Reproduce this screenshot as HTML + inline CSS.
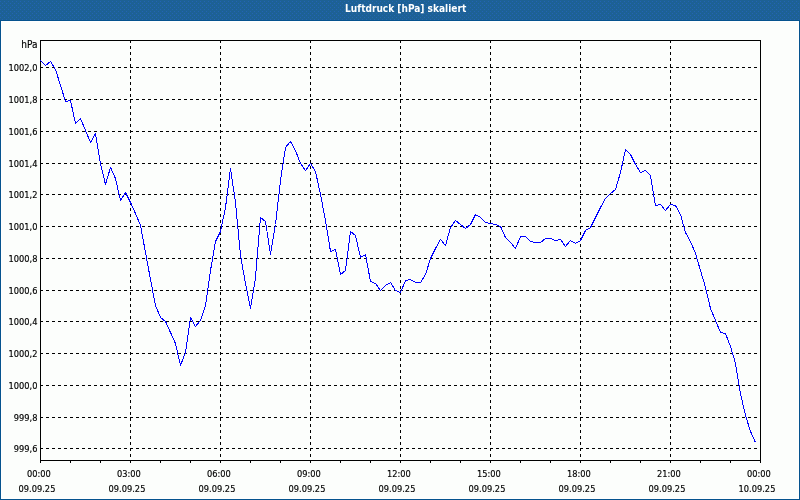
<!DOCTYPE html>
<html lang="de">
<head>
<meta charset="utf-8">
<title>Luftdruck [hPa] skaliert</title>
<style>
html,body{margin:0;padding:0;background:#fff;}
body{width:800px;height:500px;overflow:hidden;position:relative;font-family:"DejaVu Sans Condensed", "Liberation Sans", sans-serif;}
#win{position:absolute;left:0;top:0;width:800px;height:500px;background:#1e6297;}
#hdr{position:absolute;left:0;top:0;width:800px;height:20px;background:#1e6297;color:#fff;font-weight:bold;font-size:10.05px;line-height:20px;text-align:center;white-space:nowrap;}
#hdr svg{position:absolute;left:0;top:0;}
#hdr span{position:absolute;left:345px;top:4px;line-height:1;letter-spacing:0px;}
#frame{position:absolute;left:0;top:20px;width:798px;height:478px;border:1px solid #05538e;background:#fcfefc;box-shadow:inset 0 0 0 1px #fff;}
svg{position:absolute;left:0;top:0;}
svg text{font-family:"DejaVu Sans Condensed", "Liberation Sans", sans-serif;font-size:9.2px;fill:#000;stroke:#000;stroke-width:0.15px;}
</style>
</head>
<body>
<div id="win">
<div id="hdr"><svg width="800" height="20" viewBox="0 0 800 20" shape-rendering="crispEdges"><defs><pattern id="dith" width="4" height="4" patternUnits="userSpaceOnUse"><rect width="4" height="4" fill="#1d6195"/><rect x="0" y="1" width="1" height="1" fill="#2364b4"/><rect x="2" y="3" width="1" height="1" fill="#2364b4"/></pattern></defs><rect width="800" height="20" fill="url(#dith)"/></svg><span>Luftdruck [hPa] skaliert</span></div>
<div id="frame"></div>
<svg width="800" height="500" viewBox="0 0 800 500">

<g shape-rendering="crispEdges" stroke="#000" stroke-width="1" fill="none">
<line x1="40" y1="67.5" x2="761" y2="67.5" stroke-dasharray="3 3"/>
<line x1="40" y1="99.5" x2="761" y2="99.5" stroke-dasharray="3 3"/>
<line x1="40" y1="131.5" x2="761" y2="131.5" stroke-dasharray="3 3"/>
<line x1="40" y1="163.5" x2="761" y2="163.5" stroke-dasharray="3 3"/>
<line x1="40" y1="194.5" x2="761" y2="194.5" stroke-dasharray="3 3"/>
<line x1="40" y1="226.5" x2="761" y2="226.5" stroke-dasharray="3 3"/>
<line x1="40" y1="258.5" x2="761" y2="258.5" stroke-dasharray="3 3"/>
<line x1="40" y1="290.5" x2="761" y2="290.5" stroke-dasharray="3 3"/>
<line x1="40" y1="321.5" x2="761" y2="321.5" stroke-dasharray="3 3"/>
<line x1="40" y1="353.5" x2="761" y2="353.5" stroke-dasharray="3 3"/>
<line x1="40" y1="385.5" x2="761" y2="385.5" stroke-dasharray="3 3"/>
<line x1="40" y1="417.5" x2="761" y2="417.5" stroke-dasharray="3 3"/>
<line x1="40" y1="448.5" x2="761" y2="448.5" stroke-dasharray="3 3"/>
<line x1="130.5" y1="40" x2="130.5" y2="461" stroke-dasharray="3 3"/>
<line x1="220.5" y1="40" x2="220.5" y2="461" stroke-dasharray="3 3"/>
<line x1="310.5" y1="40" x2="310.5" y2="461" stroke-dasharray="3 3"/>
<line x1="400.5" y1="40" x2="400.5" y2="461" stroke-dasharray="3 3"/>
<line x1="490.5" y1="40" x2="490.5" y2="461" stroke-dasharray="3 3"/>
<line x1="580.5" y1="40" x2="580.5" y2="461" stroke-dasharray="3 3"/>
<line x1="670.5" y1="40" x2="670.5" y2="461" stroke-dasharray="3 3"/>
<rect x="40.5" y="40.5" width="720" height="420"/>
<line x1="40.5" y1="460" x2="40.5" y2="463"/>
<line x1="70.5" y1="460" x2="70.5" y2="463"/>
<line x1="100.5" y1="460" x2="100.5" y2="463"/>
<line x1="130.5" y1="460" x2="130.5" y2="463"/>
<line x1="160.5" y1="460" x2="160.5" y2="463"/>
<line x1="190.5" y1="460" x2="190.5" y2="463"/>
<line x1="220.5" y1="460" x2="220.5" y2="463"/>
<line x1="250.5" y1="460" x2="250.5" y2="463"/>
<line x1="280.5" y1="460" x2="280.5" y2="463"/>
<line x1="310.5" y1="460" x2="310.5" y2="463"/>
<line x1="340.5" y1="460" x2="340.5" y2="463"/>
<line x1="370.5" y1="460" x2="370.5" y2="463"/>
<line x1="400.5" y1="460" x2="400.5" y2="463"/>
<line x1="430.5" y1="460" x2="430.5" y2="463"/>
<line x1="460.5" y1="460" x2="460.5" y2="463"/>
<line x1="490.5" y1="460" x2="490.5" y2="463"/>
<line x1="520.5" y1="460" x2="520.5" y2="463"/>
<line x1="550.5" y1="460" x2="550.5" y2="463"/>
<line x1="580.5" y1="460" x2="580.5" y2="463"/>
<line x1="610.5" y1="460" x2="610.5" y2="463"/>
<line x1="640.5" y1="460" x2="640.5" y2="463"/>
<line x1="670.5" y1="460" x2="670.5" y2="463"/>
<line x1="700.5" y1="460" x2="700.5" y2="463"/>
<line x1="730.5" y1="460" x2="730.5" y2="463"/>
<line x1="760.5" y1="460" x2="760.5" y2="463"/>
</g>
<polyline shape-rendering="crispEdges" fill="none" stroke="#0000ff" stroke-width="1" stroke-linejoin="bevel" points="40.5,60.5 45.5,65.5 50.5,61.5 55.5,69.5 60.5,85.5 65.5,101.5 70.5,100.5 75.5,123.5 80.5,118.5 85.5,130.5 90.5,142.5 95.5,133.5 100.5,163.5 105.5,184.5 110.5,167.5 115.5,178.5 120.5,200.5 125.5,192.5 130.5,202.5 135.5,213.5 140.5,225.5 145.5,252.5 150.5,279.5 155.5,305.5 160.5,317.5 165.5,321.5 170.5,332.5 175.5,343.5 180.5,365.5 185.5,352.5 190.5,317.5 195.5,326.5 200.5,320.5 205.5,305.5 210.5,270.5 215.5,241.5 220.5,231.5 225.5,207.5 230.5,168.5 235.5,202.5 240.5,255.5 245.5,283.5 250.5,308.5 255.5,277.5 260.5,217.5 265.5,221.5 270.5,254.5 275.5,224.5 280.5,180.5 285.5,147.5 290.5,141.5 295.5,150.5 300.5,163.5 305.5,170.5 310.5,163.5 315.5,171.5 320.5,194.5 325.5,220.5 330.5,251.5 335.5,249.5 340.5,274.5 345.5,270.5 350.5,231.5 355.5,235.5 360.5,257.5 365.5,254.5 370.5,281.5 375.5,283.5 380.5,290.5 385.5,285.5 390.5,282.5 395.5,290.5 400.5,292.5 405.5,280.5 410.5,279.5 415.5,282.5 420.5,282.5 425.5,274.5 430.5,258.5 435.5,248.5 440.5,239.5 445.5,245.5 450.5,227.5 455.5,220.5 460.5,224.5 465.5,228.5 470.5,224.5 475.5,214.5 480.5,217.5 485.5,222.5 490.5,223.5 495.5,224.5 500.5,226.5 505.5,237.5 510.5,242.5 515.5,248.5 520.5,236.5 525.5,236.5 530.5,241.5 535.5,242.5 540.5,242.5 545.5,238.5 550.5,238.5 555.5,240.5 560.5,239.5 565.5,246.5 570.5,240.5 575.5,243.5 580.5,240.5 585.5,230.5 590.5,227.5 595.5,217.5 600.5,207.5 605.5,198.5 610.5,193.5 615.5,189.5 620.5,172.5 625.5,149.5 630.5,154.5 635.5,164.5 640.5,172.5 645.5,170.5 650.5,175.5 655.5,205.5 660.5,204.5 665.5,210.5 670.5,204.5 675.5,205.5 680.5,214.5 685.5,232.5 690.5,241.5 695.5,253.5 700.5,270.5 705.5,287.5 710.5,308.5 715.5,320.5 720.5,332.5 725.5,333.5 730.5,346.5 735.5,363.5 740.5,393.5 745.5,415.5 750.5,431.5 755.5,442.5"/>
<g text-anchor="end">
<text x="37.5" y="48.3" style="font-size:10px">hPa</text>
<text x="37.5" y="70.9">1002,0</text>
<text x="37.5" y="102.9">1001,8</text>
<text x="37.5" y="134.9">1001,6</text>
<text x="37.5" y="166.9">1001,4</text>
<text x="37.5" y="197.9">1001,2</text>
<text x="37.5" y="229.9">1001,0</text>
<text x="37.5" y="261.9">1000,8</text>
<text x="37.5" y="293.9">1000,6</text>
<text x="37.5" y="324.9">1000,4</text>
<text x="37.5" y="356.9">1000,2</text>
<text x="37.5" y="388.9">1000,0</text>
<text x="37.5" y="420.9">999,8</text>
<text x="37.5" y="451.9">999,6</text>
</g>
<g text-anchor="middle">
<text x="38.8" y="477">00:00</text>
<text x="37" y="492">09.09.25</text>
<text x="128.8" y="477">03:00</text>
<text x="127" y="492">09.09.25</text>
<text x="218.8" y="477">06:00</text>
<text x="217" y="492">09.09.25</text>
<text x="308.8" y="477">09:00</text>
<text x="307" y="492">09.09.25</text>
<text x="398.8" y="477">12:00</text>
<text x="397" y="492">09.09.25</text>
<text x="488.8" y="477">15:00</text>
<text x="487" y="492">09.09.25</text>
<text x="578.8" y="477">18:00</text>
<text x="577" y="492">09.09.25</text>
<text x="668.8" y="477">21:00</text>
<text x="667" y="492">09.09.25</text>
<text x="758.8" y="477">00:00</text>
<text x="757" y="492">10.09.25</text>
</g>
</svg>
</div>
</body>
</html>
